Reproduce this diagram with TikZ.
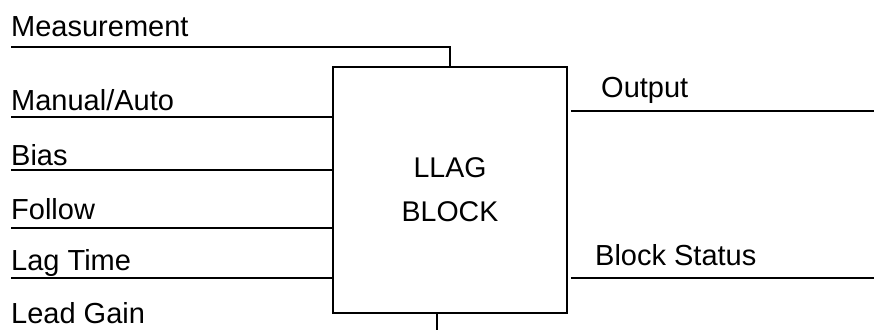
\documentclass[tikz,border=0pt]{standalone}
\usepackage{fontspec}
\setmainfont{Liberation Sans}
\begin{document}
\begin{tikzpicture}[x=1pt,y=-1pt,
  lbl/.style={anchor=base west,inner sep=0pt,font=\fontsize{29}{32}\selectfont},
  wire/.style={line width=1.8pt},
  blk/.style={draw,line width=1.8pt,minimum width=234pt,minimum height=246pt,inner sep=0pt,
    align=center,font=\fontsize{28.5}{43}\selectfont}]
\useasboundingbox (0,0) rectangle (874,329);
\node[blk] (box) at (450,190) {\raisebox{1pt}{LLAG}\\BLOCK};
% labels
\node[lbl] (tmeas) at (11,37) {Measurement};
\node[lbl] (tman) at (11,110) {Manual/Auto};
\node[lbl] (tbias) at (11,165) {Bias};
\node[lbl] (tfol) at (11,219) {Follow};
\node[lbl] (tlag) at (11,270) {Lag Time};
\node[lbl] (tlead) at (11,323) {Lead Gain};
\node[lbl] (tout) at (601,97) {Output};
\node[lbl] (tstat) at (595,265) {Block Status};
% wire ends
\coordinate (cmeas) at (11,47);
\coordinate (cman) at (11,117);
\coordinate (cbias) at (11,170);
\coordinate (cfol) at (11,228);
\coordinate (clag) at (11,278);
\coordinate (clead) at (437,330);
\coordinate (cout) at (875,111);
\coordinate (cstat) at (875,278);
% wires
\draw[wire] (cmeas) -| (box.north);
\draw[wire] (cman) -- (cman -| box.west);
\draw[wire] (cbias) -- (cbias -| box.west);
\draw[wire] (cfol) -- (cfol -| box.west);
\draw[wire] (clag) -- (clag -| box.west);
\draw[wire] (clead |- box.south) -- (clead);
\draw[wire] ([xshift=3pt]cout -| box.east) -- (cout);
\draw[wire] ([xshift=3pt]cstat -| box.east) -- (cstat);
\end{tikzpicture}
\end{document}
